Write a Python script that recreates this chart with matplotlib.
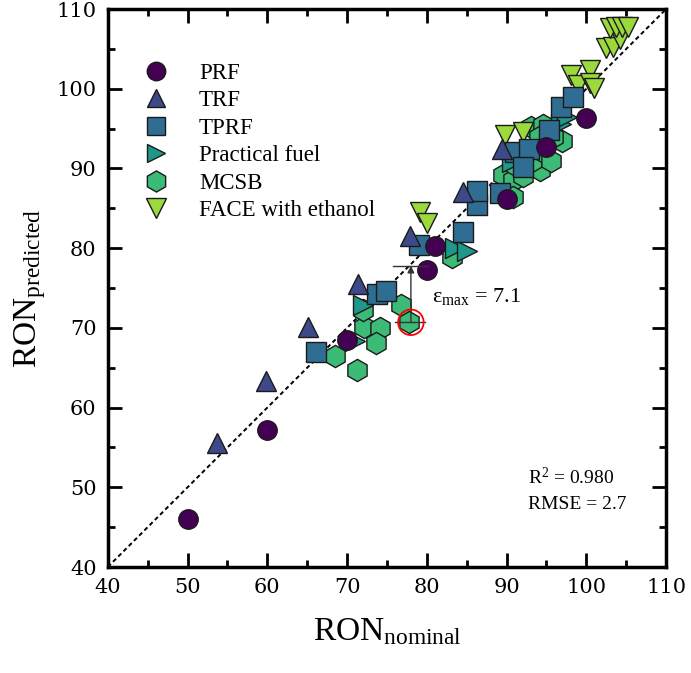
import matplotlib
matplotlib.use("Agg")
import matplotlib.pyplot as plt
from matplotlib.patches import Circle
from matplotlib.ticker import MultipleLocator

# ---------------- data ----------------
prf_x = [50, 60, 70, 80, 81, 90, 95, 100]
prf_y = [46, 57.2, 68.5, 77.3, 80.3, 86.2, 92.7, 96.3]

trf_x = [53.7, 59.8, 65.1, 71.4, 77.9, 84.5, 89.4]
trf_y = [55.5, 63.3, 70.1, 75.5, 81.5, 87.0, 92.4]

tprf_x = [66.1, 73.8, 74.9, 79.0, 84.5, 86.3, 86.3, 89.2, 91.1, 92.8, 92.1, 95.3, 96.8, 98.3]
tprf_y = [67.0, 74.2, 74.6, 80.4, 82.0, 85.4, 87.2, 86.9, 92.1, 92.4, 90.2, 94.8, 97.7, 99.0]

pf_x = [71.0, 72.0, 83.5, 85.0, 90.7, 96.8, 97.6]
pf_y = [68.3, 72.9, 80.0, 79.6, 90.8, 95.6, 96.4]

mcsb_x = [68.5, 71.2, 72.1, 74.1, 73.6, 76.8, 77.8, 72.0, 83.2, 89.6, 90.8, 91.0,
          93.0, 94.6, 97.0, 94.2, 93.2, 94.8, 95.6, 90.8, 95.8, 92.0, 94.0]
mcsb_y = [66.5, 64.7, 70.1, 70.0, 68.1, 72.9, 70.7, 72.2, 78.9, 89.2, 88.5, 90.5,
          95.2, 95.5, 93.4, 89.8, 91.0, 92.0, 91.0, 86.4, 94.0, 89.0, 94.0]

face_x = [79.1, 80.0, 89.8, 92.1, 98.1, 100.5, 99.0, 100.5, 100.9, 102.4, 103.4,
          104.2, 103.0, 103.7, 104.5, 105.2]
face_y = [84.5, 83.2, 94.2, 94.6, 101.7, 102.3, 100.5, 100.7, 100.1, 105.1, 105.2,
          106.3, 107.6, 107.7, 107.7, 107.7]

labels = ["PRF", "TRF", "TPRF", "Practical fuel", "MCSB", "FACE with ethanol"]

eps_x = 78.0
eps_y0 = 70.7
eps_y1 = 77.8
r2_text = "R$^2$ = 0.980"
rmse_text = "RMSE = 2.7"

# ---------------- plot ----------------
serif = ["Liberation Serif", "DejaVu Serif"]
plt.rcParams["font.family"] = serif
plt.rcParams["mathtext.fontset"] = "custom"
plt.rcParams["mathtext.rm"] = "Liberation Serif"
plt.rcParams["mathtext.it"] = "Liberation Serif:italic"

fig = plt.figure(figsize=(6.91, 6.73), dpi=100)
ax = fig.add_axes([0.156, 0.1575, 0.808, 0.829])

cmap = plt.get_cmap("viridis")
cols = [cmap(0.0), cmap(0.22), "#2f6e92", cmap(0.53), cmap(0.68), cmap(0.85)]
ec = "#1a1a1a"

ax.plot([40, 110], [40, 110], color="black", ls=(0, (2.2, 1.6)), lw=1.4, zorder=1)

series = [
    (prf_x, prf_y, "o", 14, 8),
    (trf_x, trf_y, "^", 14, 7),
    (tprf_x, tprf_y, "s", 14, 6),
    (pf_x, pf_y, ">", 14, 5),
    (mcsb_x, mcsb_y, "h", 16, 3),
    (face_x, face_y, "v", 15, 4),
]
handles = []
for (xs, ys, m, s, z), c, lab in zip(series, cols, labels):
    h, = ax.plot(xs, ys, ls="none", marker=m, ms=s, mfc=c, mec=ec, mew=1.0,
                 zorder=z, label=lab)
    handles.append(h)

# annotation for max error
ax.annotate("", xy=(eps_x, eps_y1), xytext=(eps_x, eps_y0),
            arrowprops=dict(arrowstyle="-|>", color="#333333", lw=1.0,
                            mutation_scale=10, shrinkA=0, shrinkB=0), zorder=9)
ax.plot([75.8, 80.2], [eps_y1, eps_y1], color="#333333", lw=1.0, zorder=9)
ax.plot([76.0, 79.8], [eps_y0, eps_y0], color="#333333", lw=1.0, zorder=9)
ax.add_patch(Circle((eps_x, eps_y0), 1.6, fill=False, ec="red", lw=1.3, zorder=10))
ax.text(80.7, 73.9, r"$\mathrm{\varepsilon_{max}}$ = 7.1", fontsize=16, va="center",
        ha="left", zorder=10)

ax.text(92.7, 51.2, r2_text, fontsize=14, va="center", ha="left")
ax.text(92.7, 47.8, rmse_text, fontsize=14, va="center", ha="left")

ax.set_xlim(40, 110)
ax.set_ylim(40, 110)
ax.xaxis.set_major_locator(MultipleLocator(10))
ax.yaxis.set_major_locator(MultipleLocator(10))
ax.xaxis.set_minor_locator(MultipleLocator(5))
ax.yaxis.set_minor_locator(MultipleLocator(5))
ax.tick_params(which="both", direction="in", top=True, right=True, width=2)
ax.tick_params(which="major", length=10, pad=8)
ax.tick_params(which="minor", length=5)
for lab in ax.get_xticklabels() + ax.get_yticklabels():
    lab.set_fontfamily("DejaVu Serif")
    lab.set_fontsize(15)
for sp in ax.spines.values():
    sp.set_linewidth(2.5)

ax.set_xlabel(r"RON$_{\mathrm{nominal}}$", fontsize=24, labelpad=14)
ax.set_ylabel(r"RON$_{\mathrm{predicted}}$", fontsize=24, labelpad=6)

leg = ax.legend(handles=handles, loc="upper left", bbox_to_anchor=(0.044, 0.92),
                frameon=False, fontsize=16.5, handlelength=1.3, handletextpad=1.2,
                labelspacing=0.28, borderaxespad=0, markerscale=0.95)

fig.savefig("out.png", dpi=100)
